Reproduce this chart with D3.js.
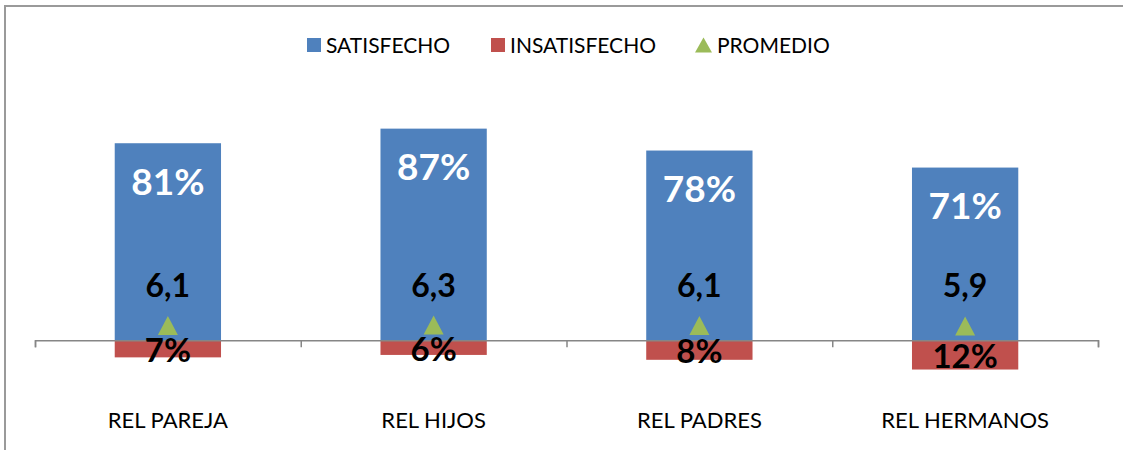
<!DOCTYPE html>
<html>
<head>
<meta charset="utf-8">
<script src="https://cdn.jsdelivr.net/npm/d3@7"></script>
<style>
  body { margin: 0; background: #fff; }
  svg { display: block; font-family: Lato, "Open Sans", sans-serif; }
</style>
</head>
<body>
<div id="chart"></div>
<script>
// data
const categories = ['REL PAREJA', 'REL HIJOS', 'REL PADRES', 'REL HERMANOS'];
const satisfecho = [81, 87, 78, 71];
const insatisfecho = [-7, -6, -8, -12];
const promedio = [6.1, 6.3, 6.1, 5.9];
const legendNames = ['SATISFECHO', 'INSATISFECHO', 'PROMEDIO'];

const width = 1123, height = 450;
const blue = '#4F81BD', red = '#C0504D', green = '#9BBB59';

const svg = d3.select('#chart').append('svg')
    .attr('width', width)
    .attr('height', height);

// chart frame
svg.append('rect')
    .attr('x', 5).attr('y', 6)
    .attr('width', width + 10).attr('height', height + 10)
    .attr('fill', 'none')
    .attr('stroke', '#9a9a9a')
    .attr('stroke-width', 2);

const x = d3.scaleBand()
    .domain(categories)
    .range([35, 1098])
    .paddingInner(0.6)
    .paddingOuter(0.3);

const y = d3.scaleLinear()
    .domain([-20, 100])
    .range([389, 97]);

const comma = d3.formatLocale({decimal: ',', thousands: '.', grouping: [3], currency: ['', '']});
const fmtProm = comma.format('.1f');

// bars
svg.append('g').selectAll('rect')
    .data(satisfecho)
    .join('rect')
    .attr('x', (d, i) => x(categories[i]))
    .attr('y', d => y(d))
    .attr('width', x.bandwidth())
    .attr('height', d => y(0) - y(d))
    .attr('fill', blue);

svg.append('g').selectAll('rect')
    .data(insatisfecho)
    .join('rect')
    .attr('x', (d, i) => x(categories[i]))
    .attr('y', y(0))
    .attr('width', x.bandwidth())
    .attr('height', d => y(d) - y(0))
    .attr('fill', red);

// axis with ticks on category boundaries
const xb = d3.scaleLinear().domain([0, categories.length]).range(x.range());
svg.append('g')
    .attr('transform', `translate(0,${y(0)})`)
    .call(d3.axisBottom(xb).ticks(categories.length).tickSize(7).tickFormat(''))
    .call(g => g.select('.domain').attr('stroke', '#868686').attr('stroke-width', 1.5))
    .call(g => g.selectAll('.tick line').attr('stroke', '#868686').attr('stroke-width', 1.5));

svg.append('g')
    .attr('transform', 'translate(0,420)')
    .call(d3.axisBottom(x).tickSize(0).tickPadding(0))
    .call(g => g.select('.domain').remove())
    .call(g => g.selectAll('text')
        .attr('dy', '0.35em')
        .attr('font-size', 22)
        .attr('font-family', 'Lato, sans-serif')
        .attr('fill', '#000'));

// promedio markers
function tri(w, h) {
    return `M0,${-h / 2}L${w / 2},${h / 2}L${-w / 2},${h / 2}Z`;
}
svg.append('g').selectAll('path')
    .data(promedio)
    .join('path')
    .attr('transform', (d, i) => `translate(${x(categories[i]) + x.bandwidth() / 2},${y(d)})`)
    .attr('d', tri(20, 19))
    .attr('fill', green);

// labels
const cx = i => x(categories[i]) + x.bandwidth() / 2;

svg.append('g').selectAll('text')
    .data(satisfecho)
    .join('text')
    .attr('x', (d, i) => cx(i))
    .attr('y', d => y(d) + 38)
    .attr('dy', '0.36em')
    .attr('text-anchor', 'middle')
    .attr('font-size', 37)
    .attr('font-weight', 'bold')
    .attr('fill', '#fff')
    .text(d => d + '%');

svg.append('g').selectAll('text')
    .data(insatisfecho)
    .join('text')
    .attr('x', (d, i) => cx(i))
    .attr('y', d => (y(0) + y(d)) / 2 + 1.5)
    .attr('dy', '0.36em')
    .attr('text-anchor', 'middle')
    .attr('font-size', 33)
    .attr('font-weight', 'bold')
    .attr('fill', '#000')
    .text(d => Math.abs(d) + '%');

svg.append('g').selectAll('text')
    .data(promedio)
    .join('text')
    .attr('x', (d, i) => cx(i))
    .attr('y', d => y(d) - 40)
    .attr('dy', '0.36em')
    .attr('text-anchor', 'middle')
    .attr('font-size', 32)
    .attr('font-weight', 'bold')
    .attr('fill', '#000')
    .text(d => fmtProm(d));

// legend
const legendX = [307, 491, 695];
const legendColors = [blue, red, green];
const legend = svg.append('g').selectAll('g')
    .data(legendNames)
    .join('g')
    .attr('transform', (d, i) => `translate(${legendX[i]},45)`);

legend.each(function(d, i) {
    const g = d3.select(this);
    if (i < 2) {
        g.append('rect').attr('x', 0).attr('y', -7).attr('width', 14).attr('height', 14).attr('fill', legendColors[i]);
    } else {
        g.append('path').attr('transform', 'translate(8.5,0)').attr('d', tri(17, 15)).attr('fill', legendColors[i]);
    }
    g.append('text')
        .attr('x', i < 2 ? 19 : 22)
        .attr('dy', '0.36em')
        .attr('font-size', 21)
        .attr('fill', '#000')
        .text(d);
});
</script>
</body>
</html>
